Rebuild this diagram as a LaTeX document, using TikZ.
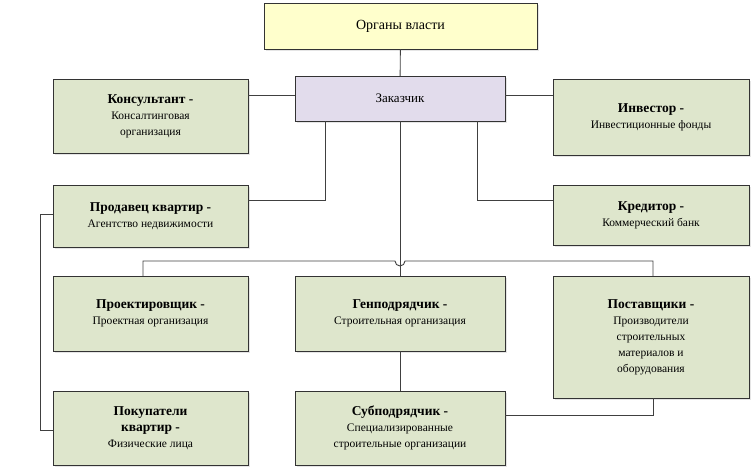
\documentclass[tikz,border=0pt]{standalone}
\usepackage{fontspec}
\setmainfont{Liberation Serif}
\usetikzlibrary{positioning, shadows}
\definecolor{boxgreen}{RGB}{222,230,204}
\definecolor{boxlilac}{RGB}{226,220,236}
\definecolor{boxyellow}{RGB}{255,255,204}
\tikzset{
  box/.style={draw=black!80, fill=boxgreen, align=center, inner sep=2pt,
    font=\fontsize{11.5}{16}\selectfont, drop shadow={shadow xshift=2pt, shadow yshift=-2pt, fill=black!20}}, % common frame
  line/.style={draw=black!75, line width=0.9pt},
}
\newcommand{\hd}[1]{{\bfseries\fontsize{13.5}{17}\selectfont #1}}
\begin{document}
\begin{tikzpicture}[x=1pt, y=-1pt]
  \useasboundingbox (0,0) rectangle (753,470);
  \node[box, fill=boxyellow, minimum width=273, minimum height=46, font=\fontsize{14}{16}\selectfont] (org) at (400.5,26) {Органы власти};
  \node[box, fill=boxlilac, minimum width=210, minimum height=45, font=\fontsize{13}{16}\selectfont] (cust) at (400,98.5) {Заказчик};
  \node[box, minimum width=195, minimum height=74] (cons) at (150.5,116) {\hd{Консультант -}\\Консалтинговая\\организация};
  \node[box, minimum width=196, minimum height=76] (inv) at (651,117) {\hd{Инвестор -}\\Инвестиционные фонды};
  \node[box, minimum width=195, minimum height=62] (sell) at (150.5,216) {\hd{Продавец квартир -}\\Агентство недвижимости};
  \node[box, minimum width=196, minimum height=60] (cred) at (651,215) {\hd{Кредитор -}\\Коммерческий банк};
  \node[box, minimum width=195, minimum height=75] (proj) at (150.5,313.5) {\hd{Проектировщик -}\\Проектная организация};
  \node[box, minimum width=210, minimum height=75] (gen) at (400,313.5) {\hd{Генподрядчик -}\\Строительная организация};
  \node[box, minimum width=196, minimum height=122] (sup) at (651,337) {\hd{Поставщики -}\\Производители\\строительных\\материалов и\\оборудования};
  \node[box, minimum width=195, minimum height=74] (buy) at (150.5,428) {\hd{Покупатели}\\\hd{квартир -}\\Физические лица};
  \node[box, minimum width=210, minimum height=74] (sub) at (400,428) {\hd{Субподрядчик -}\\Специализированные\\строительные организации};
  % connectors
  \coordinate (hL) at (143,261);
  \coordinate (hR) at (653,261);
  \draw[line] (org) -- (cust);
  \draw[line] (cust.west |- 0,95) -- (cons.east |- 0,95);
  \draw[line] (cust.east |- 0,95) -- (inv.west |- 0,95);
  \draw[line] (cust.south -| 325,0) |- (sell.east |- 0,200);
  \draw[line] (cust.south -| 477,0) |- (cred.west |- 0,200);
  \draw[line] (cust.south) -- (gen.north);
  \draw[line] (proj.north -| hL) -- (hL) -- (395,261) arc (180:0:5) -- (hR) -- (sup.north -| hR);
  \draw[line] (gen) -- (sub);
  \draw[line] (sup.south -| 653,0) |- (sub.east |- 0,415);
  \draw[line] (sell.west |- 0,214) -- (40,214) |- (buy.west |- 0,430);
\end{tikzpicture}
\end{document}
